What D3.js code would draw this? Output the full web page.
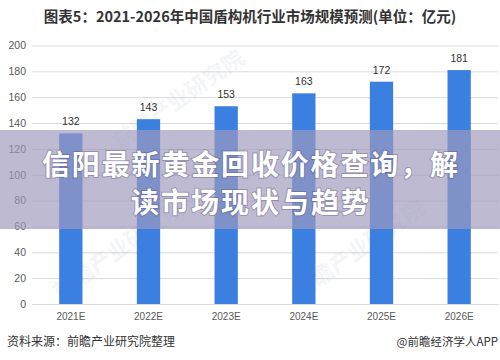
<!DOCTYPE html>
<html>
<head>
<meta charset="utf-8">
<script src="https://cdn.jsdelivr.net/npm/d3@7"></script>
<style>
  body { margin: 0; background: #fff; }
  svg { display: block; font-family: "Noto Sans CJK SC", "Noto Sans", sans-serif; }
</style>
</head>
<body>
<svg id="chart"></svg>
<script>
var W = 500, H = 360;

// data
var years = ["2021E", "2022E", "2023E", "2024E", "2025E", "2026E"];
var values = [132, 143, 153, 163, 172, 181];
var yTicks = [0, 20, 40, 60, 80, 100, 120, 140, 160, 180, 200];

var titleText = "图表5：2021-2026年中国盾构机行业市场规模预测(单位：亿元)";
var sourceText = "资料来源：前瞻产业研究院整理";
var creditText = "@前瞻经济学人APP";
var watermarkText = "前瞻产业研究院";
var overlayLines = ["信阳最新黄金回收价格查询，解", "读市场现状与趋势"];

var data = years.map((y, i) => ({year: y, value: values[i]}));

var svg = d3.select("#chart").attr("width", W).attr("height", H);

var x = d3.scaleBand().domain(years).range([32, 498]).paddingInner(0.7).paddingOuter(0.35);
var y = d3.scaleLinear().domain([0, 200]).range([304, 45.5]);

// title
svg.append("text")
    .attr("x", 250).attr("y", 22)
    .attr("text-anchor", "middle")
    .attr("font-size", 14.5)
    .attr("font-weight", "bold")
    .style("fill", "#333")
    .text(titleText);

// y axis with grid
var yAxis = svg.append("g")
    .attr("transform", "translate(32,0)")
    .call(d3.axisLeft(y).tickValues(yTicks).tickSize(-466).tickPadding(6));
yAxis.select(".domain").remove();
yAxis.selectAll(".tick line").attr("stroke", "#d9d9d9");
yAxis.selectAll(".tick text")
    .attr("font-size", 10.5)
    .attr("font-family", "Liberation Sans, Arial, sans-serif")
    .style("fill", "#595959");

// faint watermark
[[60, 300], [120, 150], [300, 300]].forEach(p => {
  svg.append("text")
      .attr("transform", `translate(${p[0]},${p[1]}) rotate(-35)`)
      .attr("font-size", 22)
      .attr("font-weight", "bold")
      .style("fill", "#9aa5b8")
      .style("opacity", 0.1)
      .text(watermarkText);
});

// bars
svg.append("g")
    .selectAll("rect")
    .data(data)
    .join("rect")
    .attr("x", d => x(d.year))
    .attr("y", d => y(d.value))
    .attr("width", x.bandwidth())
    .attr("height", d => y(0) - y(d.value))
    .style("fill", "#3b80e0");

// value labels
svg.append("g")
    .selectAll("text")
    .data(data)
    .join("text")
    .attr("x", d => x(d.year) + x.bandwidth()/2)
    .attr("y", d => y(d.value) - 8)
    .attr("text-anchor", "middle")
    .attr("font-size", 10.5)
    .attr("font-family", "Liberation Sans, Arial, sans-serif")
    .style("fill", "#333")
    .text(d => d.value);

// x labels
var xAxis = svg.append("g")
    .attr("transform", "translate(0,304)")
    .call(d3.axisBottom(x).tickSize(0).tickPadding(9));
xAxis.select(".domain").attr("stroke", "#d9d9d9");
xAxis.selectAll(".tick text")
    .attr("font-size", 10)
    .attr("font-family", "Liberation Sans, Arial, sans-serif")
    .style("fill", "#595959");

// source + credit
svg.append("text")
    .attr("x", 7).attr("y", 346)
    .attr("font-size", 12)
    .style("fill", "#333")
    .text(sourceText);
svg.append("text")
    .attr("x", 498).attr("y", 346)
    .attr("text-anchor", "end")
    .attr("font-size", 11.5)
    .style("fill", "#333")
    .text(creditText);

// overlay band with headline
svg.append("rect")
    .attr("x", 0).attr("y", 130)
    .attr("width", W).attr("height", 99)
    .style("fill", "rgb(158,153,188)")
    .style("opacity", 0.68);

// line widths as measured in the reference
var lineWidths = [416, 238];
svg.append("g")
    .selectAll("text")
    .data(overlayLines)
    .join("text")
    .attr("x", 250)
    .attr("y", (d, i) => 175 + i * 38)
    .attr("text-anchor", "middle")
    .attr("font-size", 28)
    .attr("font-weight", "bold")
    .attr("textLength", (d, i) => lineWidths[i])
    .attr("lengthAdjust", "spacing")
    .style("fill", "#fff")
    .style("paint-order", "stroke")
    .style("stroke", "rgba(80,70,110,0.35)")
    .style("stroke-width", 2)
    .text(d => d);
</script>
</body>
</html>
